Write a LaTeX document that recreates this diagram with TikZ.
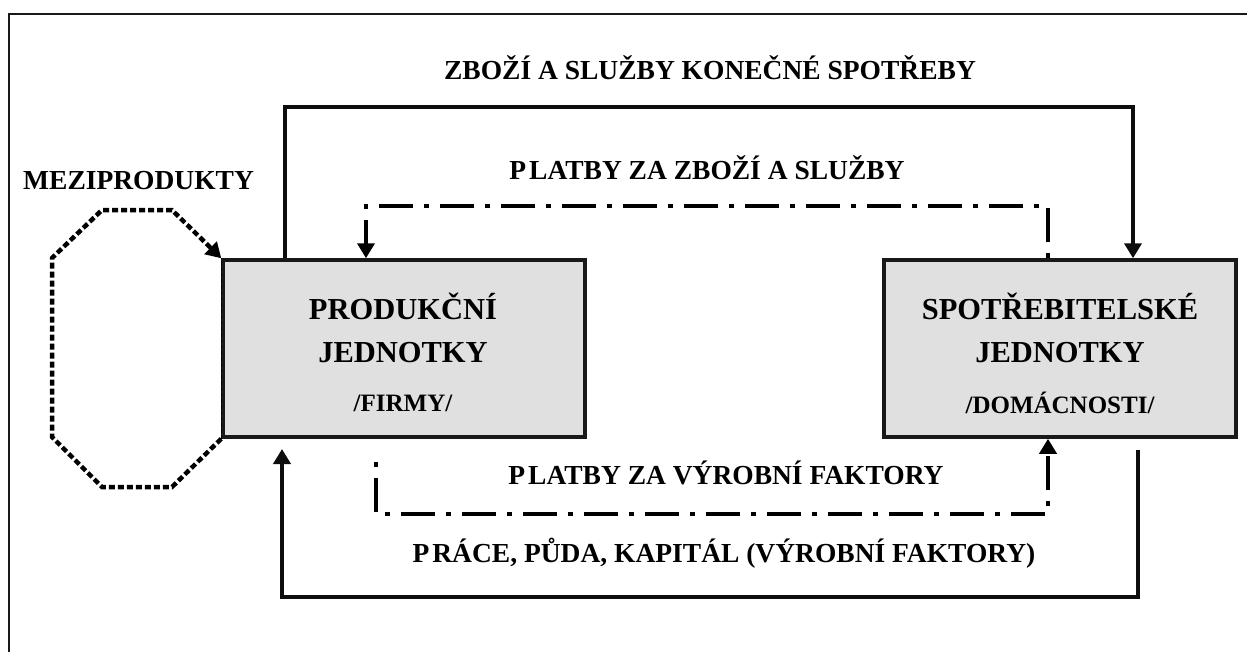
\documentclass[tikz,border=0pt]{standalone}
\usepackage{fontspec}
\setmainfont{Liberation Serif}
\usetikzlibrary{arrows.meta,calc}
\begin{document}
\begin{tikzpicture}[x=1pt,y=-1pt,
  lbl/.style={font=\bfseries\fontsize{27.5}{30}\selectfont, inner sep=0pt},
  big/.style={font=\bfseries\fontsize{30.5}{34}\selectfont, inner sep=0pt},
  small/.style={font=\bfseries\fontsize{25}{28}\selectfont, inner sep=0pt},
  unitbox/.style={draw=black!90, line width=3.5pt, fill=black!12, minimum height=177pt, inner sep=0pt},
  tip/.style={-{Triangle[length=15pt,width=17pt]}},
  flow/.style={line width=3.8pt, black!95},
  dashdot/.style={line width=4.2pt, black, dash pattern=on 34pt off 11pt on 5pt off 11pt, dash phase=45pt},
  dotline/.style={line width=4.5pt, black, dash pattern=on 6pt off 3pt}]
\useasboundingbox (0,0) rectangle (1247,651);
\draw[line width=2pt, black!90] (9,14) rectangle (1300,720);

% boxes
\node[unitbox, minimum width=362pt] (firm) at (404,348.5) {};
\node[unitbox, minimum width=352pt] (hh) at (1060,348.5) {};

% box labels
\node[big] (f1) at (403,306) {PRODUKČNÍ};
\node[big] (f2) at (403,353) {JEDNOTKY};
\node[small] (f3) at (403,403) {/FIRMY/};
\node[big] (h1) at (1060,306) {SPOTŘEBITELSKÉ};
\node[big] (h2) at (1060,353) {JEDNOTKY};
\node[small] (h3) at (1060,403) {/DOMÁCNOSTI/};

% top solid flow: goods
\coordinate (tl) at (285,107);
\coordinate (tr) at (1133,107);
\draw[flow, tip] (firm.north -| tl) -- (tl) -- (tr) -- (hh.north -| tr);

% upper dash-dot: payments for goods
\coordinate (ur) at (1048,206);
\coordinate (ul) at (366,206);
\draw[dashdot, tip] (hh.north -| ur) -- (ur) -- (ul) -- (firm.north -| ul);

% lower dash-dot: payments for factors
\coordinate (ls) at (376,462);
\coordinate (ll) at (376,514);
\coordinate (lr) at (1048,514);
\draw[dashdot, tip] (ls) -- (ll) -- (lr) -- (hh.south -| lr);

% bottom solid flow: factors
\coordinate (bs) at (1138,450);
\coordinate (br) at (1138,597);
\coordinate (bl) at (282,597);
\coordinate (be) at (282,449);
\draw[flow, tip] (bs) -- (br) -- (bl) -- (be);

% intermediate products octagon
\draw[dotline, tip] (firm.south west) -- (172,487) -- (102,487) -- (52,437) -- (52,258) -- (102,210) -- (172,210) -- (firm.north west);
\draw[line width=1.5pt, black, dash pattern=on 4pt off 2pt] (firm.south west) -- (firm.north west);

% labels
\node[lbl, anchor=west] (mezi) at (23,181) {MEZIPRODUKTY};
\node[lbl] (t1) at (710,68) {ZBOŽÍ A SLUŽBY KONEČNÉ SPOTŘEBY};
\node[lbl] (t2) at (707,168) {P\kern3pt LATBY ZA ZBOŽÍ A SLUŽBY};
\node[lbl] (t3) at (726,473) {P\kern3pt LATBY ZA VÝROBNÍ FAKTORY};
\node[lbl] (t4) at (724,553) {P\kern3pt RÁCE, PŮDA, KAPITÁL (VÝROBNÍ FAKTORY)};
\end{tikzpicture}
\end{document}
